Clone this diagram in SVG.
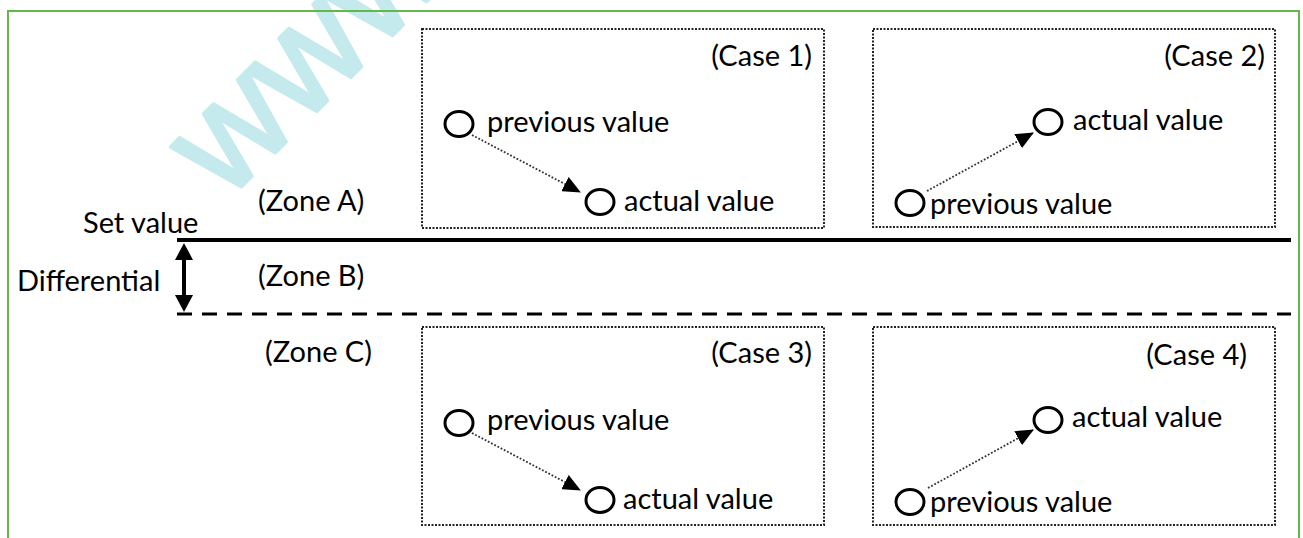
<svg xmlns="http://www.w3.org/2000/svg" width="1303" height="538" viewBox="0 0 1303 538">
<defs>
<style>
text { font-family: Lato, "Open Sans", "Liberation Sans", sans-serif; font-size: 29px; fill: #000; }
.end { text-anchor: end; }
.box { fill: none; stroke: #222; stroke-width: 2; stroke-dasharray: 2 1.5; }
.pt { fill: none; stroke: #000; stroke-width: 3; }
.flow { fill: none; stroke: #333; stroke-width: 1.8; stroke-dasharray: 1.8 1.8; marker-end: url(#tri); }
.wm { font-family: "Liberation Sans", sans-serif; font-size: 148px; fill: #c4eaed; stroke: #c4eaed; stroke-width: 3.5; stroke-linejoin: round; }
</style>
<marker id="tri" markerWidth="18" markerHeight="16" refX="17" refY="8" orient="auto" markerUnits="userSpaceOnUse">
<path d="M0,0 L18,8 L0,16 z" fill="#000"/>
</marker>
</defs>
<rect width="1303" height="538" fill="#fff"/>
<text class="wm" transform="translate(226,202) rotate(-45)">www</text>
<rect x="8" y="11" width="1291" height="545" fill="none" stroke="#62b94a" stroke-width="2"/>

<g id="levels">
<line x1="177" y1="240" x2="1291" y2="240" stroke="#000" stroke-width="4"/>
<line x1="177" y1="314" x2="1291" y2="314" stroke="#000" stroke-width="3" stroke-dasharray="15 10"/>
</g>

<g id="labels">
<text x="83" y="233">Set value</text>
<text x="258" y="211">(Zone A)</text>
<text x="17" y="291">Differential</text>
<text x="258" y="286">(Zone B)</text>
<text x="265" y="362">(Zone C)</text>
</g>

<g id="connectors">
<line x1="184" y1="255" x2="184" y2="300" stroke="#000" stroke-width="4"/>
<path d="M184,243 L193,260 L175,260 z" fill="#000"/>
<path d="M184,312 L193,295 L175,295 z" fill="#000"/>
<line class="flow" x1="472" y1="135" x2="580" y2="192"/>
<line class="flow" x1="927" y1="191" x2="1033" y2="133"/>
<line class="flow" x1="472" y1="433" x2="580" y2="490"/>
<line class="flow" x1="928" y1="488" x2="1033" y2="430"/>
</g>

<g id="case1">
<rect class="box" x="422" y="29" width="402" height="199"/>
<text class="end" x="812" y="66">(Case 1)</text>
<ellipse class="pt" cx="459" cy="124" rx="14" ry="12.5"/>
<text x="487" y="132">previous value</text>
<ellipse class="pt" cx="600" cy="202" rx="14" ry="12.5"/>
<text x="624" y="211">actual value</text>
</g>

<g id="case2">
<rect class="box" x="873" y="29" width="402" height="198"/>
<text class="end" x="1265" y="66">(Case 2)</text>
<ellipse class="pt" cx="1048" cy="122" rx="14" ry="12.5"/>
<text x="1073" y="130">actual value</text>
<ellipse class="pt" cx="910" cy="203" rx="14" ry="12.5"/>
<text x="930" y="214">previous value</text>
</g>

<g id="case3">
<rect class="box" x="422" y="327" width="402" height="198"/>
<text class="end" x="812" y="363">(Case 3)</text>
<ellipse class="pt" cx="459" cy="423" rx="14" ry="12.5"/>
<text x="487" y="430">previous value</text>
<ellipse class="pt" cx="600" cy="500" rx="14" ry="12.5"/>
<text x="623" y="509">actual value</text>
</g>

<g id="case4">
<rect class="box" x="873" y="327" width="402" height="198"/>
<text class="end" x="1247" y="365">(Case 4)</text>
<ellipse class="pt" cx="1048" cy="420" rx="14" ry="12.5"/>
<text x="1072" y="427">actual value</text>
<ellipse class="pt" cx="910" cy="502" rx="14" ry="12.5"/>
<text x="930" y="512">previous value</text>
</g>
</svg>
